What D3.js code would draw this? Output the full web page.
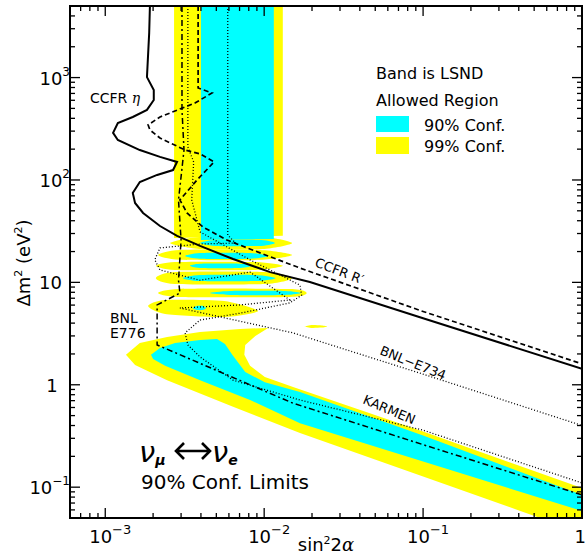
<!DOCTYPE html>
<html>
<head>
<meta charset="utf-8">
<script src="https://cdn.jsdelivr.net/npm/d3@7"></script>
<style>
  body { margin: 0; background: #fff; }
  text { font-family: "DejaVu Sans", sans-serif; fill: #000; }
</style>
</head>
<body>
<svg id="chart" width="586" height="557"></svg>
<script>
// axis ranges
const xDomain = [6e-4, 1];
const yDomain = [0.05, 5000];
const xMajor = [1e-3, 1e-2, 1e-1, 1];
const yMajor = [1e-1, 1, 10, 1e2, 1e3];
const xLabels = [['10', '\u22123'], ['10', '\u22122'], ['10', '\u22121'], ['1', '']];
const yLabels = [['10', '\u22121'], ['1', ''], ['10', ''], ['10', '2'], ['10', '3']];

// LSND allowed region, 99% (yellow) and 90% (cyan): [sin^2 2a, dm^2]
const lsnd99Band = [[2.71e-3, 5000], [1.31e-2, 5000], [1.31e-2, 28.5], [2.71e-3, 27.1]];
const lsnd90Band = [[4.0e-3, 5000], [1.15e-2, 5000], [1.15e-2, 26.5], [4.0e-3, 25.9]];
const lsnd99Fingers = [
  [[2.56e-3, 24.2], [3.9e-3, 27.8], [1.0e-2, 27.8], [1.5e-2, 24.2], [1.0e-2, 21.2], [3.9e-3, 21.2]],
  [[2.15e-3, 18.5], [2.95e-3, 20.7], [9.4e-3, 20.7], [1.5e-2, 18.5], [9.4e-3, 16.6], [2.95e-3, 16.6]],
  [[2.08e-3, 14.5], [2.75e-3, 15.8], [8.8e-3, 15.8], [1.31e-2, 14.5], [8.8e-3, 13.2], [2.75e-3, 13.2]],
  [[2.08e-3, 11.0], [2.75e-3, 12.6], [1.01e-2, 12.6], [1.5e-2, 11.0], [1.01e-2, 9.65], [2.75e-3, 9.65]],
  [[2.15e-3, 7.87], [2.95e-3, 8.62], [1.45e-2, 8.62], [1.85e-2, 7.87], [1.45e-2, 7.2], [2.95e-3, 7.2]],
  [[1.86e-3, 5.88], [2.38e-3, 6.73], [5.6e-3, 6.58], [9.15e-3, 5.25], [5.6e-3, 4.59], [2.38e-3, 4.92]],
  [[1.8e-2, 3.71], [2.0e-2, 3.84], [2.3e-2, 3.8], [2.5e-2, 3.71], [2.3e-2, 3.62], [2.0e-2, 3.59]]
];
const lsnd90Fingers = [
  [[3.95e-3, 24.2], [4.9e-3, 25.9], [9.6e-3, 25.9], [1.17e-2, 24.2], [9.6e-3, 22.7], [4.9e-3, 22.7]],
  [[3.18e-3, 18.1], [3.95e-3, 19.4], [8.15e-3, 19.4], [1.06e-2, 18.1], [8.15e-3, 17.0], [3.95e-3, 17.0]],
  [[3.41e-3, 14.5], [3.95e-3, 15.2], [7.05e-3, 15.2], [8.4e-3, 14.5], [7.05e-3, 13.8], [3.95e-3, 13.8]],
  [[3.08e-3, 11.0], [3.95e-3, 11.8], [8.8e-3, 11.8], [1.18e-2, 11.0], [8.8e-3, 10.3], [3.95e-3, 10.3]],
  [[4.56e-3, 7.87], [6.1e-3, 8.24], [1.35e-2, 8.24], [1.7e-2, 7.87], [1.35e-2, 7.53], [6.1e-3, 7.53]],
  [[3.56e-3, 5.6], [3.8e-3, 5.9], [4.1e-3, 5.9], [4.3e-3, 5.6], [4.1e-3, 5.37], [3.8e-3, 5.37]]
];
const lsnd99Low = [
  [1.35e-3, 1.96], [1.65e-3, 2.56], [2.45e-3, 2.93], [3.95e-3, 3.28], [7.05e-3, 3.51], [1.06e-2, 3.59],
  [8.8e-3, 3.0], [7.6e-3, 2.45], [7.5e-3, 1.96], [8.15e-3, 1.53], [1.01e-2, 1.19], [1.52e-2, 0.95],
  [9.5e-2, 0.36], [1, 0.098], [1, 0.05], [0.545, 0.05], [9.5e-2, 0.131], [1.68e-2, 0.338],
  [6.37e-3, 0.61], [2.45e-3, 1.11], [1.54e-3, 1.56]
];
const lsnd90Low = [
  [1.94e-3, 1.96], [2.21e-3, 2.29], [2.75e-3, 2.56], [3.95e-3, 2.74], [5.05e-3, 2.80], [5.67e-3, 2.5],
  [6.3e-3, 1.96], [7.6e-3, 1.33], [1.01e-2, 1.06], [1.68e-2, 0.85], [0.1, 0.32], [1, 0.084],
  [1, 0.0586], [0.1, 0.178], [1.68e-2, 0.42], [8.15e-3, 0.71], [3.95e-3, 1.11], [2.38e-3, 1.53], [2.0e-3, 1.79]
];

// 90% CL exclusion limits
const ccfrEta = [
  [1.91e-3, 5000], [1.89e-3, 2730], [1.83e-3, 1010], [2.02e-3, 757], [2.02e-3, 604], [1.83e-3, 483],
  [1.49e-3, 412], [1.20e-3, 360], [1.12e-3, 288], [1.20e-3, 246], [1.65e-3, 196], [2.21e-3, 168],
  [2.83e-3, 150], [2.67e-3, 125], [2.12e-3, 112], [1.65e-3, 95.5], [1.49e-3, 74.6], [1.54e-3, 59.6],
  [1.73e-3, 47.6], [2.21e-3, 35.5], [2.83e-3, 28.4], [3.95e-3, 22.7], [6.37e-3, 16.9], [1.09e-2, 12.6],
  [1.94e-2, 10.1], [0.1, 4.47], [1, 1.43]
];
const ccfrRprime = [
  [3.84e-3, 5000], [3.84e-3, 791], [4.7e-3, 707], [3.67e-3, 565], [2.21e-3, 412], [1.86e-3, 345],
  [1.91e-3, 308], [2.21e-3, 257], [3.18e-3, 196], [3.95e-3, 180], [4.84e-3, 150], [3.78e-3, 100],
  [2.95e-3, 63.8], [3.27e-3, 47.6], [4.12e-3, 34.7], [5.83e-3, 25.9], [9.42e-3, 19.4], [1.68e-2, 13.8],
  [0.1, 5.2], [1, 1.6]
];
const bnlE776 = [
  [3.04e-3, 5000], [3.04e-3, 483], [3.13e-3, 196], [2.89e-3, 63.8], [3.0e-3, 25.9], [2.89e-3, 10.5],
  [2.95e-3, 7.87], [2.12e-3, 6.02], [2.12e-3, 2.45], [1.52e-2, 0.66], [0.1, 0.26], [1, 0.084]
];
const bnlE734 = [
  [5.9e-3, 5000], [5.9e-3, 29], [6.6e-3, 24.2], [3.95e-3, 23.7], [2.21e-3, 21.7], [2.05e-3, 16.6],
  [2.21e-3, 13.2], [3.95e-3, 10.5], [8.15e-3, 12.6], [1.45e-2, 6.73], [7.05e-3, 6.02], [2.95e-3, 5.62],
  [1.52e-2, 3.21], [0.1, 1.27], [1, 0.40]
];
const karmen = [
  [3.31e-3, 5000], [3.31e-3, 210], [3.6e-3, 150], [3.5e-3, 63.8], [3.95e-3, 31.1], [8.15e-3, 16.6],
  [1.68e-2, 9.4], [1.72e-2, 7.5], [1.45e-2, 6.3], [7.05e-3, 5.0], [3.95e-3, 4.29], [3.18e-3, 3.21],
  [3.31e-3, 2.45], [3.95e-3, 1.87], [6.37e-3, 1.11], [1.68e-2, 0.71], [0.1, 0.36], [1, 0.11]
];

const width = 586, height = 557;
const margin = { top: 6, right: 4, bottom: 39, left: 70 };

const svg = d3.select('#chart');
const x = d3.scaleLog().domain(xDomain).range([margin.left, width - margin.right]);
const y = d3.scaleLog().domain(yDomain).range([height - margin.bottom, margin.top]);

svg.append('defs').append('clipPath').attr('id', 'clip')
  .append('rect')
  .attr('x', margin.left).attr('y', margin.top)
  .attr('width', x.range()[1] - margin.left)
  .attr('height', y.range()[0] - margin.top);

const plot = svg.append('g').attr('clip-path', 'url(#clip)');

const poly = d3.line().x(d => x(d[0])).y(d => y(d[1])).curve(d3.curveLinearClosed);
const lens = d3.line().x(d => x(d[0])).y(d => y(d[1])).curve(d3.curveCardinalClosed.tension(0.3));
const curve = d3.line().x(d => x(d[0])).y(d => y(d[1])).curve(d3.curveLinear);

// allowed regions
const yellow = '#ffff00', cyan = '#00ffff';
plot.append('path').attr('d', poly(lsnd99Band)).attr('fill', yellow);
plot.append('path').attr('d', poly(lsnd99Low)).attr('fill', yellow);
plot.selectAll('.f99').data(lsnd99Fingers).join('path')
  .attr('d', lens).attr('fill', yellow);
plot.append('path').attr('d', poly(lsnd90Band)).attr('fill', cyan);
plot.append('path').attr('d', poly(lsnd90Low)).attr('fill', cyan);
plot.selectAll('.f90').data(lsnd90Fingers).join('path')
  .attr('d', lens).attr('fill', cyan);

// limit curves
const limits = [
  { data: ccfrEta, dash: null, w: 2 },
  { data: ccfrRprime, dash: '5,3', w: 1.7 },
  { data: bnlE776, dash: '6,3,2,3', w: 1.5 },
  { data: bnlE734, dash: '1,2', w: 1.3 },
  { data: karmen, dash: '1,2', w: 1.3 }
];
limits.forEach(l => {
  plot.append('path').attr('d', curve(l.data))
    .attr('fill', 'none').attr('stroke', '#000')
    .attr('stroke-width', l.w)
    .attr('stroke-dasharray', l.dash);
});

// ticks on all four sides, pointing inward
const xMinor = x.ticks().filter(v => !xMajor.includes(v));
const yMinor = y.ticks().filter(v => !yMajor.some(m => Math.abs(m - v) / m < 1e-9));
const x0 = margin.left, x1 = width - margin.right;
const y0 = height - margin.bottom, y1 = margin.top;

const tickG = svg.append('g').attr('stroke', '#000').attr('stroke-width', 1.3);
function ticks(vals, len) {
  vals.forEach(v => {
    tickG.append('line').attr('x1', x(v)).attr('x2', x(v)).attr('y1', y0).attr('y2', y0 - len);
    tickG.append('line').attr('x1', x(v)).attr('x2', x(v)).attr('y1', y1).attr('y2', y1 + len);
  });
}
function yticks(vals, len) {
  vals.forEach(v => {
    tickG.append('line').attr('y1', y(v)).attr('y2', y(v)).attr('x1', x0).attr('x2', x0 + len);
    tickG.append('line').attr('y1', y(v)).attr('y2', y(v)).attr('x1', x1).attr('x2', x1 - len);
  });
}
ticks(xMajor, 10); ticks(xMinor, 5);
yticks(yMajor, 10); yticks(yMinor, 5);

svg.append('rect').attr('x', x0).attr('y', y1)
  .attr('width', x1 - x0).attr('height', y0 - y1)
  .attr('fill', 'none').attr('stroke', '#000').attr('stroke-width', 2);

// tick labels
xMajor.forEach((v, i) => {
  const last = !xLabels[i][1];
  const t = svg.append('text').attr('x', last ? 586 : x(v) + 5).attr('y', 543)
    .attr('text-anchor', last ? 'end' : 'middle').attr('font-size', 18);
  t.append('tspan').text(xLabels[i][0]);
  if (xLabels[i][1]) t.append('tspan').attr('dy', -9).attr('font-size', 13).text(xLabels[i][1]);
});
yMajor.forEach((v, i) => {
  const [base, sup] = yLabels[i];
  const t = svg.append('text').attr('y', y(v) + 7).attr('font-size', 18);
  if (base === '1') t.attr('x', 52).attr('text-anchor', 'middle');
  else t.attr('x', sup ? 70 : 62).attr('text-anchor', 'end');
  t.append('tspan').text(base);
  if (sup) t.append('tspan').attr('dy', -9).attr('font-size', 12).text(sup);
});

// axis titles
const xt = svg.append('text').attr('x', 326).attr('y', 551).attr('text-anchor', 'middle').attr('font-size', 18);
xt.append('tspan').text('sin');
xt.append('tspan').attr('dy', -7).attr('font-size', 11).text('2');
xt.append('tspan').attr('dy', 7).text('2');
xt.append('tspan').attr('font-family', 'DejaVu Serif').attr('font-style', 'italic').text('\u03b1');

const yt = svg.append('text').attr('transform', 'translate(30,263) rotate(-90)')
  .attr('text-anchor', 'middle').attr('font-size', 18);
yt.append('tspan').text('\u0394m');
yt.append('tspan').attr('dy', -8).attr('font-size', 11).text('2');
yt.append('tspan').attr('dy', 8).text(' (eV');
yt.append('tspan').attr('dy', -8).attr('font-size', 11).text('2');
yt.append('tspan').attr('dy', 8).text(')');

// legend
svg.append('text').attr('x', 376).attr('y', 79).attr('font-size', 16).text('Band is LSND');
svg.append('text').attr('x', 376).attr('y', 106).attr('font-size', 16).text('Allowed Region');
svg.append('rect').attr('x', 376).attr('y', 116).attr('width', 33).attr('height', 16).attr('fill', cyan);
svg.append('rect').attr('x', 376).attr('y', 137).attr('width', 33).attr('height', 17).attr('fill', yellow);
svg.append('text').attr('x', 424).attr('y', 131).attr('font-size', 16).text('90% Conf.');
svg.append('text').attr('x', 424).attr('y', 152).attr('font-size', 16).text('99% Conf.');

// curve labels
const eta = svg.append('text').attr('x', 90).attr('y', 103).attr('font-size', 14);
eta.append('tspan').text('CCFR ');
eta.append('tspan').attr('font-family', 'DejaVu Serif').attr('font-style', 'italic').text('\u03b7');
svg.append('text').attr('x', 110).attr('y', 323).attr('font-size', 14).text('BNL');
svg.append('text').attr('x', 110).attr('y', 338).attr('font-size', 14).text('E776');
svg.append('text').attr('transform', 'translate(314,266) rotate(21)').attr('font-size', 13).text('CCFR R\u2032');
svg.append('text').attr('transform', 'translate(379,354) rotate(22)').attr('font-size', 13).text('BNL\u2212E734');
svg.append('text').attr('transform', 'translate(362,403) rotate(23)').attr('font-size', 13).text('KARMEN');

// oscillation channel
const ch = svg.append('g');
const nu1 = ch.append('text').attr('x', 139).attr('y', 462).attr('font-size', 29)
  .attr('font-family', 'DejaVu Serif').attr('font-style', 'italic');
nu1.append('tspan').text('\u03bd');
nu1.append('tspan').attr('dy', 3).attr('font-size', 14).attr('font-weight', 'bold').text('\u03bc');
ch.append('path')
  .attr('d', 'M176,451 L210,451 M184,443 L176,451 L184,459 M202,443 L210,451 L202,459')
  .attr('fill', 'none').attr('stroke', '#000').attr('stroke-width', 2.6);
const nu2 = ch.append('text').attr('x', 212).attr('y', 462).attr('font-size', 29)
  .attr('font-family', 'DejaVu Serif').attr('font-style', 'italic');
nu2.append('tspan').text('\u03bd');
nu2.append('tspan').attr('dy', 3).attr('font-size', 14).attr('font-weight', 'bold').text('e');
svg.append('text').attr('x', 141).attr('y', 489).attr('font-size', 20).text('90% Conf. Limits');
</script>
</body>
</html>
